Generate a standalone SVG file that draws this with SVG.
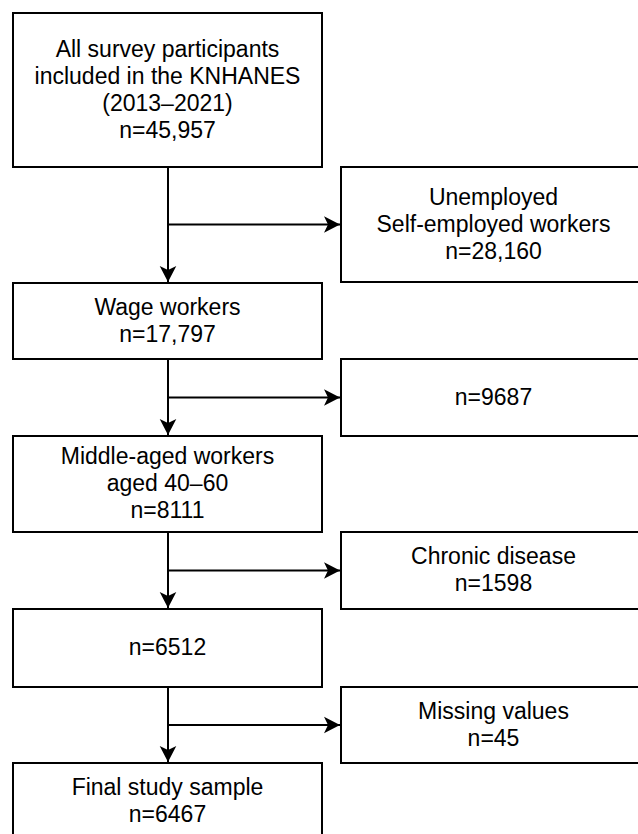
<svg xmlns="http://www.w3.org/2000/svg" width="638" height="834" viewBox="0 0 638 834">
<defs>
<style>
.box{fill:#fff;stroke:#000;stroke-width:2}
.t{font-family:"Liberation Sans",Arial,sans-serif;font-size:23px;fill:#000;text-anchor:middle}
.c{fill:none;stroke:#000;stroke-width:2}
</style>
<marker id="arr" markerUnits="userSpaceOnUse" viewBox="-17 -9 18 18" refX="0" refY="0" markerWidth="18" markerHeight="18" orient="auto">
<path d="M0,0 L-16,-8.3 L-12,0 L-16,8.3 Z" fill="#000"/>
</marker>
</defs>
<rect width="638" height="834" fill="#fff"/>
<g id="connectors">
<line class="c" x1="168" y1="167" x2="168" y2="282" marker-end="url(#arr)"/>
<line class="c" x1="168" y1="224.5" x2="340" y2="224.5" marker-end="url(#arr)"/>
<line class="c" x1="168" y1="359" x2="168" y2="435" marker-end="url(#arr)"/>
<line class="c" x1="168" y1="397.5" x2="340" y2="397.5" marker-end="url(#arr)"/>
<line class="c" x1="168" y1="532" x2="168" y2="608" marker-end="url(#arr)"/>
<line class="c" x1="168" y1="570.5" x2="340" y2="570.5" marker-end="url(#arr)"/>
<line class="c" x1="168" y1="687" x2="168" y2="762" marker-end="url(#arr)"/>
<line class="c" x1="168" y1="725" x2="340" y2="725" marker-end="url(#arr)"/>
</g>
<g id="all">
<rect class="box" x="13" y="13" width="309" height="154"/>
<text class="t" x="167.5" y="57">All survey participants</text>
<text class="t" x="167.5" y="84">included in the KNHANES</text>
<text class="t" x="167.5" y="111">(2013–2021)</text>
<text class="t" x="167.5" y="138">n=45,957</text>
</g>
<g id="unemployed">
<rect class="box" x="341" y="167" width="309" height="115"/>
<text class="t" x="493.5" y="205">Unemployed</text>
<text class="t" x="493.5" y="232">Self-employed workers</text>
<text class="t" x="493.5" y="259">n=28,160</text>
</g>
<g id="wage">
<rect class="box" x="13" y="283" width="309" height="76"/>
<text class="t" x="167.5" y="315">Wage workers</text>
<text class="t" x="167.5" y="342">n=17,797</text>
</g>
<g id="excl2">
<rect class="box" x="341" y="359" width="309" height="77"/>
<text class="t" x="493.5" y="405">n=9687</text>
</g>
<g id="middle">
<rect class="box" x="13" y="436" width="309" height="96"/>
<text class="t" x="167.5" y="464">Middle-aged workers</text>
<text class="t" x="167.5" y="491">aged 40–60</text>
<text class="t" x="167.5" y="518">n=8111</text>
</g>
<g id="chronic">
<rect class="box" x="341" y="532" width="309" height="77"/>
<text class="t" x="493.5" y="564">Chronic disease</text>
<text class="t" x="493.5" y="591">n=1598</text>
</g>
<g id="n6512">
<rect class="box" x="13" y="609" width="309" height="78"/>
<text class="t" x="167.5" y="655">n=6512</text>
</g>
<g id="missing">
<rect class="box" x="341" y="687" width="309" height="76"/>
<text class="t" x="493.5" y="719">Missing values</text>
<text class="t" x="493.5" y="746">n=45</text>
</g>
<g id="final">
<rect class="box" x="13" y="763" width="309" height="80"/>
<text class="t" x="167.5" y="795">Final study sample</text>
<text class="t" x="167.5" y="822">n=6467</text>
</g>
</svg>
